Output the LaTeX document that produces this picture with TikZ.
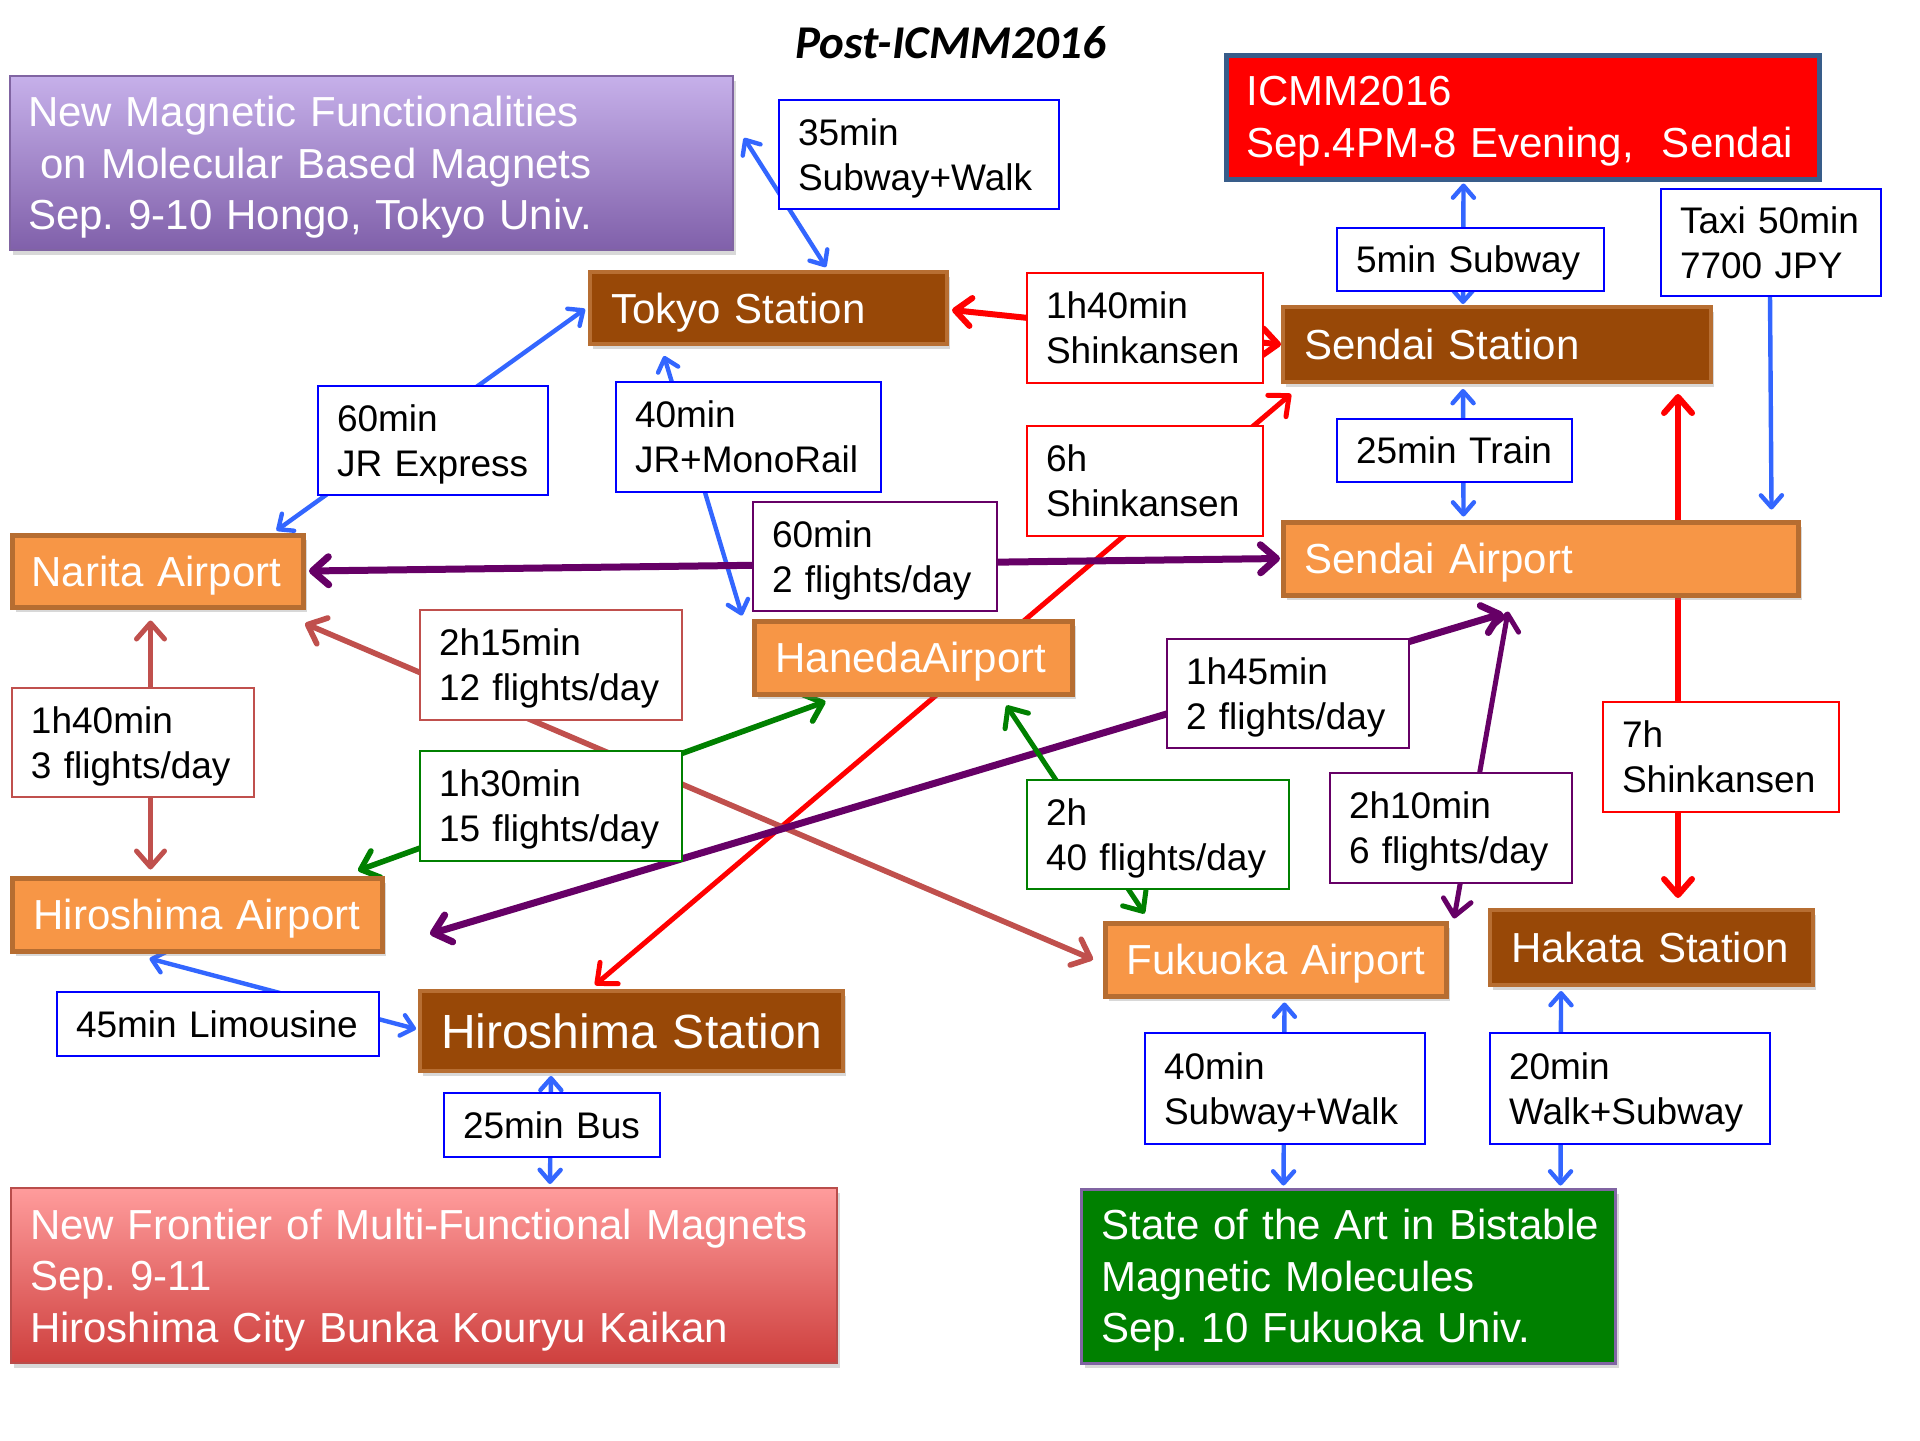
\documentclass[tikz,border=0pt]{standalone}
\usepackage{fontspec}
\setmainfont{Liberation Sans}
\newfontfamily\titlefont{Carlito}
\usetikzlibrary{arrows.meta,calc,shadows,backgrounds}
\frenchspacing
\definecolor{cblue}{RGB}{51,102,255}
\definecolor{lblue}{RGB}{0,0,255}
\definecolor{cred}{RGB}{255,0,0}
\definecolor{cpurp}{RGB}{102,0,102}
\definecolor{crose}{RGB}{192,80,77}
\definecolor{cgreen}{RGB}{0,128,0}
\definecolor{stfill}{RGB}{152,72,7}
\definecolor{stdraw}{RGB}{183,110,50}
\definecolor{apfill}{RGB}{247,150,70}
\definecolor{apdraw}{RGB}{182,109,49}
\definecolor{icmmdraw}{RGB}{56,93,138}
\definecolor{pvtop}{RGB}{198,176,234}
\definecolor{pvbot}{RGB}{128,96,170}
\definecolor{pvdraw}{RGB}{128,100,162}
\definecolor{pktop}{RGB}{255,156,156}
\definecolor{pkbot}{RGB}{206,64,62}
\definecolor{pkdraw}{RGB}{185,77,75}
\definecolor{gndraw}{RGB}{128,100,162}
\newcommand\mybox[8]{%
  \pgfmathsetmacro\mbtw{(#5-#3-2*#7)*0.5}%
  \pgfmathsetmacro\mbh{(#6-#4)*0.5}%
  \pgfmathsetmacro\mbcy{(#4+#6)/2}%
  \pgfmathsetmacro\mbpad{#7*0.5}%
  \node[text depth=0pt, #1, anchor=west, align=left, inner xsep=\mbpad pt, inner ysep=0pt,
        text width=\mbtw pt, minimum height=\mbh pt] (#2) at (#3,\mbcy) {#8};%
}
\tikzset{
  lbl/.style={draw=lblue, fill=white, line width=1pt, text=black,
              font=\fontsize{18.5}{22.5}\selectfont},
  two/.style={text depth=22.5pt},
  lblr/.style={lbl, draw=cred},
  lblp/.style={lbl, draw=cpurp},
  lblrose/.style={lbl, draw=crose},
  lblg/.style={lbl, draw=cgreen},
  shd/.style={drop shadow={shadow xshift=1.5pt, shadow yshift=-2.5pt, opacity=0.3}},
  st/.style={fill=stfill, draw=stdraw, line width=2pt, text=white,
             font=\fontsize{21}{25}\selectfont, shd},
  ap/.style={fill=apfill, draw=apdraw, line width=2.5pt, text=white,
             font=\fontsize{21}{25}\selectfont, shd},
  ev/.style={text=white, font=\fontsize{21}{25.7}\selectfont},
  bl/.style={draw=cblue, line width=2.2pt, >={Straight Barb[length=6pt,width=10.5pt,round]}},
  rd/.style={draw=cred, line width=2.5pt, >={Straight Barb[length=8pt,width=14pt,round]}},
  pp/.style={draw=cpurp, line width=3pt, >={Straight Barb[length=8pt,width=14pt,round]}},
  rs/.style={draw=crose, line width=2.8pt, >={Straight Barb[length=8pt,width=14pt,round]}},
  gn/.style={draw=cgreen, line width=2.8pt, >={Straight Barb[length=8pt,width=14pt,round]}},
}
\begin{document}
\begin{tikzpicture}[x=0.5pt,y=-0.5pt]
\useasboundingbox (0,0) rectangle (1920,1440);

\node[font=\titlefont\fontsize{23.5}{28}\selectfont\bfseries\itshape] (title) at (951,43) {Post-ICMM2016};

% event boxes
\mybox{ev, shd, text depth=51.4pt, top color=pvtop, bottom color=pvbot, draw=pvdraw, line width=1pt}{ev1}{9}{76}{732}{250}{18}{\mbox{New Magnetic Functionalities}\\\mbox{\hspace*{0.3em}on Molecular Based Magnets}\\\mbox{Sep. 9-10 Hongo, Tokyo Univ.}}
\mybox{ev, text depth=25.7pt, fill=cred, draw=icmmdraw, line width=2.5pt}{icmm}{1224}{55}{1817}{179}{20}{\mbox{ICMM2016}\\\mbox{Sep.4PM-8 Evening,\ \ Sendai}}
\mybox{ev, shd, text depth=51.4pt, top color=pktop, bottom color=pkbot, draw=pkdraw, line width=1pt}{ev2}{10}{1188}{836}{1363}{19}{\mbox{New Frontier of Multi-Functional Magnets}\\\mbox{Sep. 9-11}\\\mbox{Hiroshima City Bunka Kouryu Kaikan}}
\mybox{ev, shd, text depth=51.4pt, fill=cgreen, draw=gndraw, line width=1.5pt}{ev3}{1080}{1189}{1614}{1363}{20}{\mbox{State of the Art in Bistable}\\\mbox{Magnetic Molecules}\\\mbox{Sep. 10 Fukuoka Univ.}}

% stations and airports
\mybox{st}{tokyo}{588}{272}{945}{344}{21}{\mbox{Tokyo Station}}
\mybox{st}{sendaist}{1281}{307}{1709}{382}{21}{\mbox{Sendai Station}}
\mybox{ap}{sendaiap}{1281}{522}{1796}{595}{21}{\mbox{Sendai Airport}}
\mybox{ap}{narita}{10}{535}{301}{607}{19}{\mbox{Narita Airport}}
\mybox{ap}{haneda}{752}{621}{1070}{694}{21}{\mbox{HanedaAirport}}
\mybox{ap}{hiroap}{10}{878}{380}{951}{21}{\mbox{Hiroshima Airport}}
\mybox{ap}{fukuap}{1103}{923}{1444}{996}{21}{\mbox{Fukuoka Airport}}
\mybox{st}{hakata}{1488}{910}{1811}{985}{21}{\mbox{Hakata Station}}
\mybox{st, font=\fontsize{24}{28}\selectfont}{hirost}{418}{991}{841}{1071}{21}{\mbox{Hiroshima Station}}

% labels
\mybox{lbl,two}{l35}{778}{100}{1058}{209}{19}{\mbox{35min}\\\mbox{Subway+Walk}}
\mybox{lblr,two}{lsk1}{1026}{273}{1262}{383}{19}{\mbox{1h40min}\\\mbox{Shinkansen}}
\mybox{lbl}{l5}{1336}{228}{1603}{291}{19}{\mbox{5min Subway}}
\mybox{lbl,two}{ltaxi}{1660}{189}{1880}{296}{19}{\mbox{Taxi 50min}\\\mbox{7700 JPY}}
\mybox{lbl,two}{l60jr}{317}{386}{547}{495}{19}{\mbox{60min}\\\mbox{JR Express}}
\mybox{lbl,two}{l40jr}{615}{382}{880}{492}{19}{\mbox{40min}\\\mbox{JR+MonoRail}}
\mybox{lblr,two}{l6h}{1026}{426}{1262}{536}{19}{\mbox{6h}\\\mbox{Shinkansen}}
\mybox{lbl}{l25t}{1336}{419}{1571}{482}{19}{\mbox{25min Train}}
\mybox{lblp,two}{l60fl}{752}{502}{996}{611}{19}{\mbox{60min}\\\mbox{2 flights/day}}
\mybox{lblrose,two}{l2h15}{419}{610}{681}{720}{19}{\mbox{2h15min}\\\mbox{12 flights/day}}
\mybox{lblrose,two}{l1h40}{11}{688}{253}{797}{19}{\mbox{1h40min}\\\mbox{3 flights/day}}
\mybox{lblg,two}{l1h30}{419}{751}{681}{861}{19}{\mbox{1h30min}\\\mbox{15 flights/day}}
\mybox{lblp,two}{l1h45}{1166}{639}{1408}{748}{19}{\mbox{1h45min}\\\mbox{2 flights/day}}
\mybox{lblr,two}{l7h}{1602}{702}{1838}{812}{19}{\mbox{7h}\\\mbox{Shinkansen}}
\mybox{lblg,two}{l2h}{1026}{780}{1288}{889}{19}{\mbox{2h}\\\mbox{40 flights/day}}
\mybox{lblp,two}{l2h10}{1329}{773}{1571}{883}{19}{\mbox{2h10min}\\\mbox{6 flights/day}}
\mybox{lbl}{l45}{56}{992}{378}{1056}{19}{\mbox{45min Limousine}}
\mybox{lbl}{l25b}{443}{1093}{659}{1157}{19}{\mbox{25min Bus}}
\mybox{lbl,two}{l40fk}{1144}{1033}{1424}{1144}{19}{\mbox{40min}\\\mbox{Subway+Walk}}
\mybox{lbl,two}{l20}{1489}{1033}{1769}{1144}{19}{\mbox{20min}\\\mbox{Walk+Subway}}

\begin{scope}[on background layer]
\fill[white] (0,0) rectangle (1920,1440);
\draw[bl,<->] ($(ev1.east)+(10,-25)$) -- ($(tokyo.north)+(57.5,-3)$);
\draw[bl,<->] ($(tokyo.west)+(-3,1)$) -- ($(narita.north)+(118.5,-2)$);
\draw[bl,<->] ($(tokyo.south)+(-104.5,10)$) -- ($(haneda.north west)+(-10,-3)$);
\draw[rd,<->,line width=3pt] ($(tokyo.east)+(3,2)$) -- ($(sendaist.west)+(0,0)$);
\draw[rd,<->] ($(hirost.north)+(-36.5,-4)$) -- ($(sendaist.south west)+(10,10)$);
\draw[pp,<->,line width=3.5pt] ($(narita.east)+(3,0)$) -- ($(sendaiap.west)+(-1,0)$);
\draw[rs,<->] ($(narita.south east)+(-1,14)$) -- ($(fukuap.west)+(-10,0)$);
\draw[rs,<->,line width=2.5pt] ($(narita.south)+(-7.5,11)$) -- ($(hiroap.north)+(-47,-6)$);
\draw[gn,<->] ($(hiroap.north east)+(-27,-5)$) -- ($(haneda.south)+(-88,5)$);
\draw[pp,<->,line width=3.5pt] ($(hiroap.east)+(45,19.5)$) -- ($(sendaiap.south)+(-38,16)$);
\draw[gn,<->,line width=2.5pt] ($(haneda.south)+(93,9)$) -- ($(fukuap.north)+(-131.5,-7)$);
\draw[pp,<->,line width=2.5pt] ($(sendaiap.south)+(-33,14)$) -- ($(fukuap.north east)+(5,-2)$);
\draw[rd,<->,line width=3pt] ($(sendaist.south)+(181,10)$) -- ($(hakata.north)+(26.5,-10)$);
\draw[bl,<->] ($(icmm.south)+(-59.5,2)$) -- ($(sendaist.north)+(-34,-1)$);
\draw[bl,<->] ($(sendaist.south)+(-34,5)$) -- ($(sendaiap.north)+(-77.5,-3)$);
\draw[bl,->] ($(ltaxi.south)+(-1,0)$) -- ($(sendaiap.north east)+(-29.5,-10)$);
\draw[bl,<->] ($(hiroap.south)+(-48,5)$) -- ($(hirost.west)+(-2,-2)$);
\draw[bl,<->] ($(hirost.south)+(-80.5,3)$) -- ($(ev2.north)+(126,-3)$);
\draw[bl,<->] ($(fukuap.south)+(8.5,4)$) -- ($(ev3.north)+(-65,-2)$);
\draw[bl,<->] ($(hakata.south)+(-90.5,4)$) -- ($(ev3.north)+(212,-2)$);
\end{scope}
\end{tikzpicture}
\end{document}
